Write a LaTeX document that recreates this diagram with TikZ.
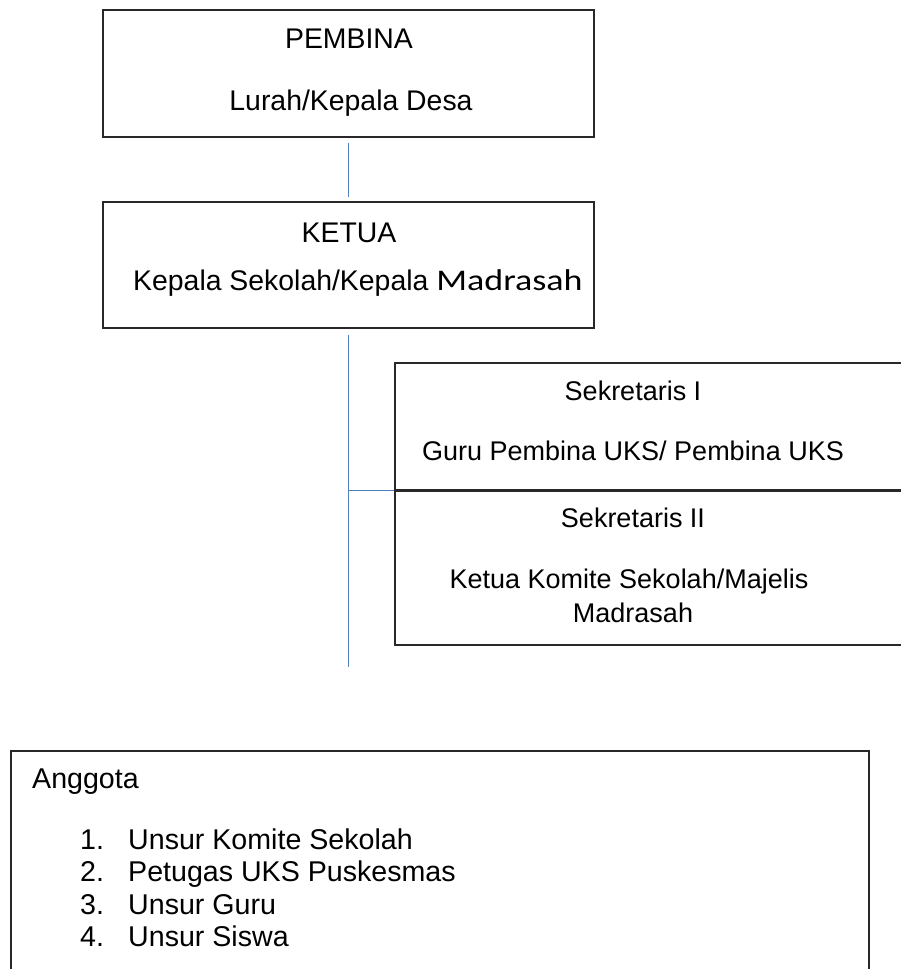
\documentclass[tikz,border=0pt]{standalone}
\usepackage{fontspec}
\setmainfont{Liberation Sans}
\newfontfamily\calibrifont{Carlito}
\usepackage{graphicx}
\definecolor{connblue}{RGB}{79,129,189}
\definecolor{boxline}{RGB}{40,40,40}
\tikzset{
  orgbox/.style={draw=boxline, line width=1.3pt, inner sep=0pt, rectangle},
  conn/.style={draw=connblue, line width=1.2pt},
  txtA/.style={anchor=base, inner sep=0pt, font=\fontsize{28.4}{34}\selectfont},
  txtB/.style={anchor=base, inner sep=0pt, font=\fontsize{27}{32}\selectfont},
  txtC/.style={anchor=base west, inner sep=0pt, font=\fontsize{28.6}{34}\selectfont}
}
\begin{document}
\begin{tikzpicture}[x=1pt,y=-1pt]
\useasboundingbox (0,0) rectangle (901,969);
\clip (0,0) rectangle (901,969);
\fill[white] (0,0) rectangle (901,969);

% boxes
\node[orgbox, minimum width=491pt, minimum height=127pt] (pembina) at (348.5,73.5) {};
\node[orgbox, minimum width=491pt, minimum height=126pt] (ketua) at (348.5,265) {};
\node[orgbox, minimum width=520pt, minimum height=127pt] (sek1) at (655,426.5) {};
\node[orgbox, minimum width=520pt, minimum height=154pt] (sek2) at (655,568) {};
\node[orgbox, minimum width=858pt, minimum height=239pt] (anggota) at (440,870.5) {};

% texts
\node[txtA] (t1) at (349,48) {PEMBINA};
\node[txtA] (t2) at (351,110) {Lurah/Kepala Desa};
\node[txtA] (t3) at (349,242) {KETUA};
\node[txtA, anchor=base west] (t4) at (133,290) {Kepala Sekolah/Kepala {\calibrifont\fontsize{30}{34}\selectfont\scalebox{1.2}[1]{Madrasah}}};
\node[txtB] (t5) at (633,400) {Sekretaris I};
\node[txtB] (t6) at (633,460) {Guru Pembina UKS/ Pembina UKS};
\node[txtB] (t7) at (633,527) {Sekretaris II};
\node[txtB] (t8) at (629,588) {Ketua Komite Sekolah/Majelis};
\node[txtB] (t9) at (633,622) {Madrasah};

\node[txtC] (a0) at (32,788) {Anggota};
\node[txtC] (n1) at (80,849) {1.};
\node[txtC] (i1) at (128,849) {Unsur Komite Sekolah};
\node[txtC] (n2) at (80,881.5) {2.};
\node[txtC] (i2) at (128,881.5) {Petugas UKS Puskesmas};
\node[txtC] (n3) at (80,914) {3.};
\node[txtC] (i3) at (128,914) {Unsur Guru};
\node[txtC] (n4) at (80,946.5) {4.};
\node[txtC] (i4) at (128,946.5) {Unsur Siswa};

% connectors
\coordinate (trunkend) at (348.5,667);
\draw[conn] ([yshift=-5pt]pembina.south) -- ([yshift=4pt]ketua.north);
\draw[conn] ([yshift=-6pt]ketua.south) -- (trunkend);
\draw[conn] (sek1.south west) -- (sek1.south west -| trunkend);
\end{tikzpicture}
\end{document}
